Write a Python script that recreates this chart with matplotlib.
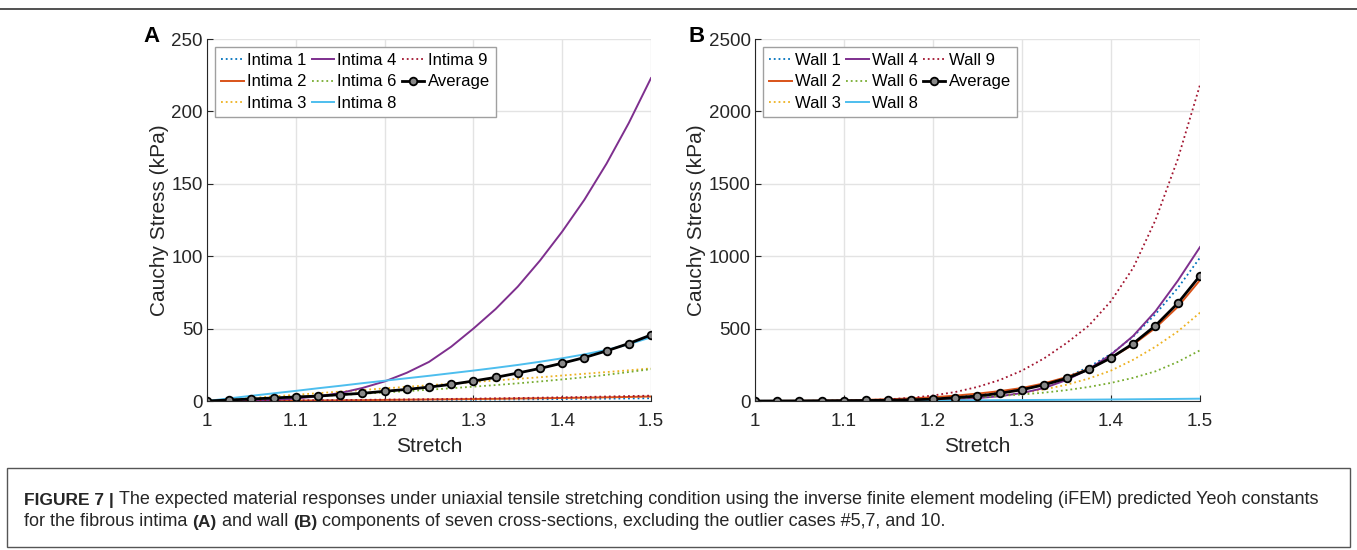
import numpy as np
import matplotlib.pyplot as plt
from matplotlib.lines import Line2D
from matplotlib.patches import Rectangle

plt.rcParams['font.family'] = ['Liberation Sans', 'DejaVu Sans']

# stretch grid (x values of the curves and the average markers)
stretch = [1.000, 1.025, 1.050, 1.075, 1.100, 1.125, 1.150, 1.175, 1.200, 1.225, 1.250,
           1.275, 1.300, 1.325, 1.350, 1.375, 1.400, 1.425, 1.450, 1.475, 1.500]

# panel A: fibrous intima, Cauchy stress (kPa)
intima1 = [0, 0.05, 0.1, 0.15, 0.2, 0.3, 0.35, 0.45, 0.5, 0.6, 0.7, 0.8, 0.9, 1.0, 1.1, 1.2, 1.35, 1.5, 1.6, 1.75, 1.9]
intima2 = [0, 0.05, 0.1, 0.2, 0.3, 0.4, 0.5, 0.6, 0.75, 0.9, 1.05, 1.2, 1.35, 1.5, 1.7, 1.9, 2.1, 2.3, 2.55, 2.8, 3.1]
intima3 = [0, 1.0, 2.1, 3.2, 4.3, 5.4, 6.5, 7.6, 8.7, 9.8, 10.9, 12.0, 13.1, 14.2, 15.3, 16.4, 17.6, 18.8, 20.0, 21.2, 22.5]
intima4 = [0, 0.1, 0.3, 0.8, 1.7, 3.2, 5.5, 9.0, 13.5, 19.5, 27, 37.5, 50, 63.5, 79, 97, 117, 139, 164, 192, 223]
intima6 = [0, 0.6, 1.3, 2.0, 2.7, 3.4, 4.2, 5.0, 5.9, 6.8, 7.8, 8.8, 9.9, 11.0, 12.2, 13.5, 14.9, 16.4, 18.1, 20.0, 22.0]
intima8 = [0, 1.8, 3.6, 5.3, 7.0, 8.8, 10.5, 12.3, 14.0, 15.7, 17.4, 19.2, 21.0, 22.9, 24.9, 27.1, 29.5, 32.2, 35.3, 39.2, 44.0]
intima9 = [0, 0.1, 0.2, 0.3, 0.4, 0.5, 0.65, 0.8, 0.95, 1.1, 1.25, 1.45, 1.65, 1.85, 2.05, 2.3, 2.55, 2.8, 3.1, 3.4, 3.7]
intima_avg = [0, 0.7, 1.4, 2.1, 2.8, 3.4, 4.4, 5.3, 6.7, 8.0, 9.6, 11.5, 13.8, 16.3, 19.3, 22.5, 26.1, 30.0, 34.6, 39.7, 45.6]

# panel B: wall, Cauchy stress (kPa)
wall1 = [0, 0.3, 1, 2, 3.5, 5.5, 8.5, 13, 20, 30, 43, 60, 82, 115, 165, 235, 325, 445, 600, 780, 990]
wall2 = [0, 0.5, 1.5, 3, 5, 8, 12, 18, 26, 37, 51, 68, 90, 122, 165, 222, 298, 390, 505, 650, 835]
wall3 = [0, 0.1, 0.3, 0.8, 1.6, 2.8, 4.5, 7, 11, 17, 26, 38, 55, 80, 112, 155, 210, 285, 375, 480, 610]
wall4 = [0, 0, 0.1, 0.3, 0.7, 1.3, 2.3, 4, 7, 12, 20, 33, 55, 90, 145, 220, 320, 450, 620, 830, 1063]
wall6 = [0, 0.1, 0.4, 1, 2, 3.7, 6, 9, 13, 19, 26, 35, 45, 58, 75, 97, 125, 160, 205, 270, 350]
wall8 = [0, 0.3, 0.6, 1, 1.4, 1.9, 2.4, 3, 3.6, 4.3, 5, 5.8, 6.6, 7.5, 8.5, 9.5, 10.6, 11.8, 13.1, 14.5, 16]
wall9 = [0, 0.1, 0.4, 1.2, 2.8, 6, 12, 22, 38, 62, 97, 145, 210, 295, 400, 520, 690, 920, 1250, 1670, 2183]
wall_avg = [0, 0.2, 0.6, 1.3, 2.3, 3.5, 5, 8, 13, 23, 34, 53, 78, 112, 156, 218, 298, 397, 521, 675, 865]

ids = ['1', '2', '3', '4', '6', '8', '9']
colors = ['#0072BD', '#D95319', '#EDB120', '#7E2F8E', '#77AC30', '#4DBEEE', '#A2142F']
styles = [':', '-', ':', '-', ':', '-', ':']

W, H = 1357, 550
fig = plt.figure(figsize=(W / 100, H / 100), dpi=100)


def px_axes(x0, x1, ytop, ybot):
    return fig.add_axes([x0 / W, 1 - ybot / H, (x1 - x0) / W, (ybot - ytop) / H])


def panel(ax, series, avg, name, ymax, yticks):
    for s, c, ls, i in zip(series, colors, styles, ids):
        ax.plot(stretch, s, ls, color=c, lw=1.4 if ls == '-' else 1.3, label=name + ' ' + i)
    ax.plot(stretch, avg, '-o', color='black', lw=2, ms=5.5, mfc='#888888', mec='black',
            mew=1.3, label='Average')
    ax.set_xlim(1, 1.5)
    ax.set_ylim(0, ymax)
    ax.set_xticks([1, 1.1, 1.2, 1.3, 1.4, 1.5])
    ax.set_xticklabels(['1', '1.1', '1.2', '1.3', '1.4', '1.5'])
    ax.set_yticks(yticks)
    ax.grid(True, color='#e3e3e3', lw=1)
    ax.set_axisbelow(True)
    for sp in ['top', 'right']:
        ax.spines[sp].set_visible(False)
    for sp in ['left', 'bottom']:
        ax.spines[sp].set_color('#262626')
        ax.spines[sp].set_linewidth(0.8)
    ax.tick_params(direction='in', length=4, labelsize=13.5, colors='#262626', pad=3)
    ax.tick_params(axis='x', pad=9)
    ax.set_xlabel('Stretch', fontsize=15, color='#262626', labelpad=5)
    ax.set_ylabel('Cauchy Stress (kPa)', fontsize=15, color='#262626', labelpad=2)
    leg = ax.legend(ncol=3, loc='upper left', bbox_to_anchor=(0.0, 1.0), fontsize=12,
                    handlelength=1.35, handletextpad=0.2, columnspacing=0.3, labelspacing=0.38,
                    borderpad=0.35, borderaxespad=0.5, fancybox=False, framealpha=1)
    leg.get_frame().set_edgecolor('#a0a0a0')
    leg.get_frame().set_linewidth(1)


axA = px_axes(207, 651, 39, 401)
panel(axA, [intima1, intima2, intima3, intima4, intima6, intima8, intima9], intima_avg,
      'Intima', 250, [0, 50, 100, 150, 200, 250])
axB = px_axes(755, 1200, 39, 401)
panel(axB, [wall1, wall2, wall3, wall4, wall6, wall8, wall9], wall_avg,
      'Wall', 2500, [0, 500, 1000, 1500, 2000, 2500])

fig.text(152 / W, 1 - 36 / H, 'A', fontsize=16, fontweight='bold', ha='center', va='center')
fig.text(697 / W, 1 - 36 / H, 'B', fontsize=16, fontweight='bold', ha='center', va='center')

# frame lines
fig.add_artist(Line2D([0, 1], [1 - 9 / H, 1 - 9 / H], color='#333333', lw=1.2))
fig.add_artist(Rectangle((7 / W, 1 - 547 / H), (1350 - 7) / W, (547 - 468) / H,
                         fill=False, edgecolor='#555555', lw=1, transform=fig.transFigure))

# caption with bold pieces
fig.canvas.draw()
renderer = fig.canvas.get_renderer()


def caption_line(parts, y):
    x = 24 / W
    for txt, bold in parts:
        t = fig.text(x, 1 - y / H, txt, fontsize=12.5 if bold else 13,
                     fontweight='bold' if bold else 'normal',
                     va='center', ha='left', color='#262626')
        bb = t.get_window_extent(renderer)
        x += bb.width / W


caption_line([('FIGURE 7 | ', True),
              ('The expected material responses under uniaxial tensile stretching condition using the '
               'inverse finite element modeling (iFEM) predicted Yeoh constants', False)], 500)
caption_line([('for the fibrous intima ', False), ('(A)', True), (' and wall ', False), ('(B)', True),
              (' components of seven cross-sections, excluding the outlier cases #5,7, and 10.', False)], 522)

fig.savefig('out.png', dpi=100)
